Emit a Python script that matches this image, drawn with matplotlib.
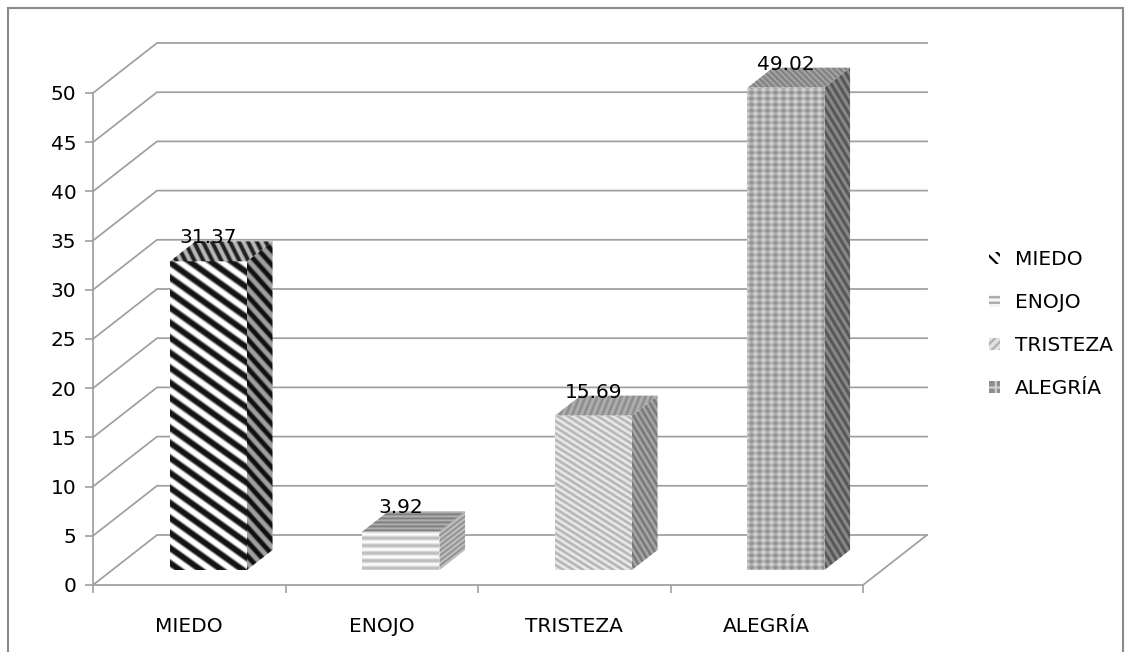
import numpy as np
import matplotlib
matplotlib.use("Agg")
import matplotlib.pyplot as plt
from matplotlib.patches import Polygon, Patch, Rectangle
from matplotlib.colors import to_rgb
from matplotlib.transforms import offset_copy

# ---- data -------------------------------------------------------------
categories = ["MIEDO", "ENOJO", "TRISTEZA", "ALEGRÍA"]
values = [31.37, 3.92, 15.69, 49.02]
y_ticks = [0, 5, 10, 15, 20, 25, 30, 35, 40, 45, 50]

# ---- layout (pixels) --------------------------------------------------
W, H, DPI = 1132, 652, 100
X0_PX, Y0_PX = 93, 585          # where (0, 0) of the front plane sits
PX_PER_CAT = 192.5
PX_PER_UNIT = 9.84
XLIM = (-0.3, 4.5)
YLIM = (-3.5, 57.0)
FS = 14.5
GRID = "#9f9f9f"

plt.rcParams["font.family"] = ["DejaVu Sans"]
plt.rcParams["hatch.linewidth"] = 1.6

fig = plt.figure(figsize=(W / DPI, H / DPI), dpi=DPI)
left = X0_PX + XLIM[0] * PX_PER_CAT
right = X0_PX + XLIM[1] * PX_PER_CAT
bottom = Y0_PX - YLIM[0] * PX_PER_UNIT
top = Y0_PX - YLIM[1] * PX_PER_UNIT
ax = fig.add_axes([left / W, 1 - bottom / H, (right - left) / W, (bottom - top) / H])
ax.set_xlim(XLIM)
ax.set_ylim(YLIM)

# oblique depth of the plot box, in data units
DX = 64 / PX_PER_CAT
DY = 50 / PX_PER_UNIT
D_FRONT, D_BACK = 0.3, 0.7      # depth slice occupied by the columns
BAR_W = 0.4
n = len(categories)


def proj(x, y, d):
    return (x + d * DX, y + d * DY)


# ---- walls and floor ---------------------------------------------------
for v in y_ticks:
    p1 = proj(0, v, 1)
    p2 = proj(n, v, 1)
    ax.plot([0, p1[0], p2[0]], [v, p1[1], p2[1]], color=GRID, lw=1.25, zorder=1,
            solid_joinstyle="miter")
pr = proj(n, 0, 1)
ax.plot([n, pr[0]], [0, pr[1]], color=GRID, lw=1.25, zorder=1)

# ---- axes decoration ---------------------------------------------------
for s in ("top", "right"):
    ax.spines[s].set_visible(False)
ax.spines["left"].set_position(("data", 0))
ax.spines["bottom"].set_position(("data", 0))
ax.spines["left"].set_bounds(0, max(y_ticks))
ax.spines["bottom"].set_bounds(0, n)
for s in ("left", "bottom"):
    ax.spines[s].set_color(GRID)
    ax.spines[s].set_linewidth(1.25)
ax.set_yticks(y_ticks)
ax.set_yticklabels([str(t) for t in y_ticks])
ax.set_xticks(range(n + 1))
ax.set_xticklabels([])
ax.set_xticks([i + 0.5 for i in range(n)], labels=categories, minor=True)
ax.tick_params(axis="y", direction="out", length=6, width=1.2, color=GRID,
               pad=6, labelsize=FS)
ax.tick_params(axis="x", which="major", direction="out", length=6, width=1.2,
               color=GRID)
ax.tick_params(axis="x", which="minor", length=0, pad=23, labelsize=FS)
ax.set_facecolor("none")

# ---- textures ----------------------------------------------------------
nh, nw = int(round(bottom - top)), int(round(right - left))
rr, cc = np.mgrid[0:nh, 0:nw].astype(float)


def band(phase, sharp=1.0):
    return np.clip(0.5 + 0.5 * sharp * np.cos(2 * np.pi * phase), 0, 1)


def shade(t, dark, light):
    d = np.array(to_rgb(dark))
    l = np.array(to_rgb(light))
    return d + t[..., None] * (l - d)


def weave():
    t = 0.45 + 0.3 * np.cos(2 * np.pi * cc / 8) + 0.3 * np.cos(2 * np.pi * rr / 6)
    return np.clip(t, 0, 1)


textures = {
    "MIEDO": {
        "front": lambda: shade(band((cc - 1.4 * rr) / 21, 1.8), "#141414", "#ffffff"),
        "side": lambda: shade(band((cc - 0.9 * rr) / 13, 1.6), "#101010", "#a0a0a0"),
        "top": lambda: shade(band((cc - 0.5 * rr) / 9, 1.5), "#202020", "#b8b8b8"),
    },
    "ENOJO": {
        "front": lambda: shade(band(rr / 7.5, 1.1), "#bdbdbd", "#fcfcfc"),
        "side": lambda: shade(band((rr + 0.77 * cc) / 5, 1.0), "#8e8e8e", "#c6c6c6"),
        "top": lambda: shade(band(rr / 4, 1.0), "#7c7c7c", "#b4b4b4"),
    },
    "TRISTEZA": {
        "front": lambda: shade(band((cc - 1.6 * rr) / 10, 1.2), "#b4b4b4", "#ececec"),
        "side": lambda: shade(band((cc - 0.6 * rr) / 6, 1.2), "#777777", "#a8a8a8"),
        "top": lambda: shade(band((cc + 0.4 * rr) / 6, 1.0), "#8c8c8c", "#b2b2b2"),
    },
    "ALEGRÍA": {
        "front": lambda: shade(weave(), "#929292", "#d8d8d8"),
        "side": lambda: shade(band((cc - 0.6 * rr) / 7, 1.3), "#555555", "#8a8a8a"),
        "top": lambda: shade(band((cc - 1.0 * rr) / 6, 1.0), "#7e7e7e", "#a6a6a6"),
    },
}


def paint(pts, rgb):
    poly = Polygon(pts, closed=True, fc="none", ec="none", transform=ax.transData)
    ax.add_patch(poly)
    im = ax.imshow(rgb, extent=(XLIM[0], XLIM[1], YLIM[0], YLIM[1]),
                   origin="upper", aspect="auto", interpolation="bilinear", zorder=3)
    im.set_clip_path(poly)


# ---- 3-D columns -------------------------------------------------------
label_tf = offset_copy(ax.transData, fig=fig, x=0, y=-2, units="dots")
for i, (cat, v) in enumerate(zip(categories, values)):
    x0 = i + 0.5 - BAR_W / 2
    x1 = i + 0.5 + BAR_W / 2
    front = [proj(x0, 0, D_FRONT), proj(x1, 0, D_FRONT),
             proj(x1, v, D_FRONT), proj(x0, v, D_FRONT)]
    side = [proj(x1, 0, D_FRONT), proj(x1, 0, D_BACK),
            proj(x1, v, D_BACK), proj(x1, v, D_FRONT)]
    topf = [proj(x0, v, D_FRONT), proj(x1, v, D_FRONT),
            proj(x1, v, D_BACK), proj(x0, v, D_BACK)]
    tex = textures[cat]
    paint(side, tex["side"]())
    paint(front, tex["front"]())
    paint(topf, tex["top"]())
    lx, ly = proj(i + 0.5, v, D_FRONT)
    ax.text(lx, v + D_BACK * DY, f"{v:.2f}", ha="center", va="baseline",
            fontsize=FS, transform=label_tf, zorder=5)

ax.set_xlim(XLIM)
ax.set_ylim(YLIM)

# ---- legend ------------------------------------------------------------
fs_px = FS * DPI / 72
handles = [
    Patch(facecolor="white", edgecolor="black", hatch="\\\\\\", lw=0),
    Patch(facecolor="#f4f4f4", edgecolor="#a8a8a8", hatch="---", lw=0),
    Patch(facecolor="#e2e2e2", edgecolor="#b0b0b0", hatch="////", lw=0),
    Patch(facecolor="#8e8e8e", edgecolor="#cfcfcf", hatch="++", lw=0),
]
ax.legend(handles, categories, loc="upper left",
          bbox_to_anchor=(989 / W, 1 - 250 / H), bbox_transform=fig.transFigure,
          frameon=False, borderpad=0, borderaxespad=0, fontsize=FS,
          handlelength=11 / fs_px, handleheight=11 / fs_px,
          handletextpad=15 / fs_px, labelspacing=1.2)

# ---- chart-area frame --------------------------------------------------
fig.add_artist(Rectangle((7.5 / W, -0.05), (1123 - 7.5) / W, 1 - 7.5 / H + 0.05,
                         transform=fig.transFigure, fc="none", ec="#8a8a8a",
                         lw=1.5, zorder=10))

fig.savefig("out.png", dpi=DPI)
